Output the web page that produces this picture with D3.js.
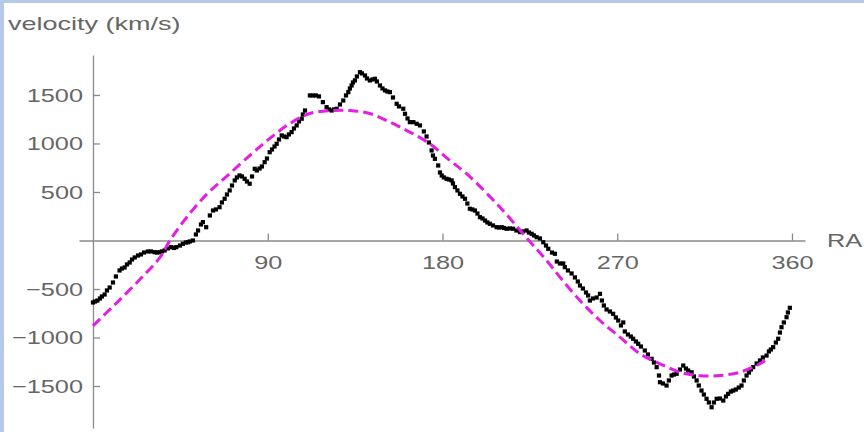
<!DOCTYPE html>
<html>
<head>
<meta charset="utf-8">
<script src="https://cdn.jsdelivr.net/npm/d3@7"></script>
<style>
  body { margin: 0; background: #fff; }
</style>
</head>
<body>
<div id="chart"></div>
<script>
const ra = [
  0, 1.0, 2.3, 3.6, 4.6, 6.0, 7.2, 8.6, 10.3, 11.8,
  13.7, 14.9, 16.3, 17.5, 18.9, 20.1, 21.5, 23.2, 24.7, 26.3,
  28.3, 29.9, 31.8, 33.0, 34.3, 35.5, 36.9, 38.6, 40.3, 41.7,
  42.9, 44.8, 46.3, 47.9, 48.9, 49.9, 51.5, 53.0, 54.1, 55.6,
  56.6, 58.3, 60.2, 61.8, 63.3, 65.2, 66.4, 67.8, 69.0, 70.4,
  71.6, 73.0, 74.1, 75.5, 76.7, 78.1, 79.3, 80.7, 81.9, 83.3,
  84.4, 85.8, 87.0, 88.4, 89.6, 91.0, 92.2, 93.5, 94.6, 95.8,
  97.2, 98.4, 99.7, 100.9, 102.3, 103.5, 104.9, 106.1, 107.5, 108.1,
  109.2, 111.7, 113.3, 114.8, 116.4, 118.4, 120.3, 121.5, 122.9, 124.1,
  125.5, 127.2, 128.9, 130.3, 131.5, 132.3, 133.2, 133.9, 134.9, 135.9,
  137.5, 138.5, 140.1, 141.1, 142.6, 143.9, 145.2, 146.2, 147.8, 149.1,
  150.4, 151.6, 152.9, 154.5, 156.4, 157.6, 159.8, 160.7, 162.0, 163.2,
  165.0, 166.7, 168.4, 170.4, 171.8, 173.0, 174.4, 175.1, 176.1, 177.8,
  178.7, 179.6, 180.7, 182.1, 183.3, 184.7, 185.4, 186.4, 187.7, 189.0,
  190.3, 191.6, 192.8, 194.1, 195.4, 196.7, 198.0, 199.3, 200.6, 201.9,
  203.1, 204.4, 206.0, 207.9, 209.1, 210.5, 211.6, 213.0, 214.7, 216.4,
  218.1, 219.9, 221.4, 223.3, 224.5, 225.9, 227.1, 228.5, 230.2, 231.9,
  233.3, 234.5, 236.4, 237.9, 238.9, 240.5, 242.2, 243.0, 244.6, 246.5,
  248.2, 249.7, 250.8, 252.3, 253.9, 255.0, 255.9, 257.5, 259.4, 261.1,
  262.1, 263.1, 264.5, 266.2, 267.9, 269.3, 270.5, 271.9, 273.1, 273.9,
  275.5, 277.0, 278.2, 279.6, 280.8, 282.2, 284.2, 285.8, 287.7, 288.9,
  290.3, 291.5, 292.0, 293.5, 295.4, 296.6, 298.0, 299.2, 300.6, 302.3,
  304.0, 305.4, 306.5, 308.3, 309.5, 310.9, 312.0, 313.4, 314.6, 316.0,
  317.2, 318.6, 319.8, 321.2, 322.9, 324.6, 326.0, 327.1, 328.5, 329.7,
  331.1, 332.6, 334.0, 335.2, 336.6, 337.8, 338.8, 340.0, 341.8, 343.5,
  345.0, 346.9, 348.1, 349.1, 350.3, 351.7, 352.9, 353.8, 354.6, 355.8,
  357.2, 357.9, 358.9
];
const vel = [
  -639, -629, -619, -598, -577, -557, -515, -485, -433, -371,
  -309, -289, -278, -247, -227, -196, -175, -155, -144, -124,
  -113, -113, -121, -124, -121, -113, -103, -82, -69, -77,
  -69, -52, -34, -21, -18, -10, 0, 62, 103, 165,
  189, 137, 258, 309, 320, 343, 392, 430, 474, 516,
  567, 619, 650, 670, 660, 636, 608, 585, 660, 739,
  722, 742, 763, 807, 845, 910, 938, 969, 997, 1041,
  1083, 1072, 1065, 1093, 1117, 1155, 1186, 1227, 1255, 1299,
  1340, 1495, 1495, 1495, 1485, 1426, 1374, 1351, 1340, 1351,
  1358, 1402, 1443, 1495, 1529, 1567, 1598, 1629, 1650, 1691,
  1735, 1722, 1701, 1670, 1650, 1660, 1667, 1639, 1598, 1567,
  1547, 1536, 1529, 1474, 1409, 1382, 1358, 1306, 1258, 1220,
  1220, 1203, 1186, 1124, 1072, 1010, 928, 876, 842, 773,
  701, 670, 650, 636, 629, 619, 588, 550, 516, 481,
  454, 430, 381, 327, 320, 309, 278, 240, 227, 206,
  186, 172, 155, 137, 134, 137, 129, 121, 124, 121,
  103, 86, 93, 103, 82, 69, 52, 34, 21, -18,
  -52, -86, -124, -137, -217, -237, -237, -275, -309, -340,
  -381, -423, -464, -495, -536, -567, -619, -598, -588, -550,
  -619, -670, -711, -732, -756, -794, -825, -876, -845, -938,
  -969, -990, -1013, -1041, -1065, -1093, -1134, -1175, -1220, -1258,
  -1306, -1392, -1461, -1474, -1495, -1443, -1392, -1382, -1374, -1330,
  -1289, -1320, -1340, -1358, -1402, -1443, -1495, -1547, -1588, -1632,
  -1670, -1719, -1670, -1632, -1629, -1650, -1608, -1581, -1557, -1547,
  -1536, -1516, -1495, -1443, -1392, -1361, -1330, -1306, -1268, -1237,
  -1206, -1186, -1144, -1124, -1100, -1052, -1013, -949, -894, -845,
  -791, -742, -694
];

// dashed fit curve
const fitRa = [0, 7.7, 13.9, 24.2, 34.5, 39.6, 48.2, 58.5, 68.8, 81.9, 91.1, 101.4,
  111.7, 123.6, 132.3, 142.6, 152.9, 163.2, 173.5, 183.8, 192.4, 209.6, 224.5,
  233.6, 240.5, 250.8, 261.1, 271.4, 281.7, 292.0, 302.3, 312.6, 322.9, 333.2,
  343.5, 346.0];
const fitVel = [-880, -730, -610, -400, -175, 0, 237, 475, 660, 897, 1052, 1206,
  1309, 1340, 1340, 1309, 1220, 1117, 997, 825, 688, 343, 0,
  -206, -378, -619, -825, -997, -1168, -1271, -1358, -1395, -1392, -1358,
  -1271, -1237];

const xTicks = [90, 180, 270, 360];
const yTicks = [-1500, -1000, -500, 500, 1000, 1500];

const width = 864;
const height = 432;
const fontFamily = "'Liberation Sans', Arial, sans-serif";
const fontSize = 19;
const stretchX = 1.33; // the picture is wider than it is tall

const svg = d3
  .select("#chart")
  .append("svg")
  .attr("width", width)
  .attr("height", height);

svg.append("rect").attr("width", width).attr("height", height).attr("fill", "#fff");
// light blue frame on the top and left edges
svg.append("rect").attr("width", width).attr("height", 3).attr("fill", "#b7c9e8");
svg.append("rect").attr("width", 4).attr("height", height).attr("fill", "#b7c9e8");

const x = d3.scaleLinear().domain([-7.2, 366.7]).range([79, 805]);
const y = d3.scaleLinear().domain([-1933, 1912]).range([428, 55]);

function widen(sel, k = stretchX) {
  sel.each(function () {
    const w = this.getComputedTextLength();
    d3.select(this)
      .attr("textLength", w * k)
      .attr("lengthAdjust", "spacingAndGlyphs");
  });
}

function styleAxis(g) {
  g.attr("font-family", fontFamily).attr("font-size", fontSize);
  g.select(".domain").attr("stroke", "#8a8a8a").attr("stroke-width", 1.3);
  g.selectAll(".tick line").attr("stroke", "#8a8a8a").attr("stroke-width", 1.3);
  g.selectAll(".tick text").attr("fill", "#666").call(widen);
}

svg
  .append("g")
  .attr("transform", `translate(0,${y(0)})`)
  .call(
    d3.axisBottom(x).tickValues(xTicks).tickFormat(d3.format("d"))
      .tickSizeInner(-7).tickSizeOuter(0).tickPadding(15)
  )
  .call(styleAxis);

svg
  .append("g")
  .attr("transform", `translate(${x(0)},0)`)
  .call(
    d3.axisLeft(y).tickValues(yTicks).tickFormat(d3.format("d"))
      .tickSizeInner(-7).tickSizeOuter(0).tickPadding(10)
  )
  .call(styleAxis);

svg
  .append("text")
  .attr("x", 8)
  .attr("y", 30)
  .attr("font-family", fontFamily)
  .attr("font-size", fontSize)
  .attr("fill", "#666")
  .text("velocity (km/s)")
  .call(widen, 1.42);

svg
  .append("text")
  .attr("x", 827)
  .attr("y", y(0) + 7)
  .attr("font-family", fontFamily)
  .attr("font-size", fontSize)
  .attr("fill", "#666")
  .text("RA")
  .call(widen);

// data points
const pts = d3.zip(ra, vel);
const s = 4.2;
svg
  .append("g")
  .selectAll("rect")
  .data(pts)
  .join("rect")
  .attr("x", d => x(d[0]) - s / 2)
  .attr("y", d => y(d[1]) - s / 2)
  .attr("width", s)
  .attr("height", s)
  .attr("fill", "#000");

// fit curve
const line = d3
  .line()
  .x(d => x(d[0]))
  .y(d => y(d[1]))
  .curve(d3.curveCatmullRom);

svg
  .append("path")
  .datum(d3.zip(fitRa, fitVel))
  .attr("d", line)
  .attr("fill", "none")
  .attr("stroke", "#e41ee4")
  .attr("stroke-width", 3)
  .attr("stroke-dasharray", "10,5");
</script>
</body>
</html>
